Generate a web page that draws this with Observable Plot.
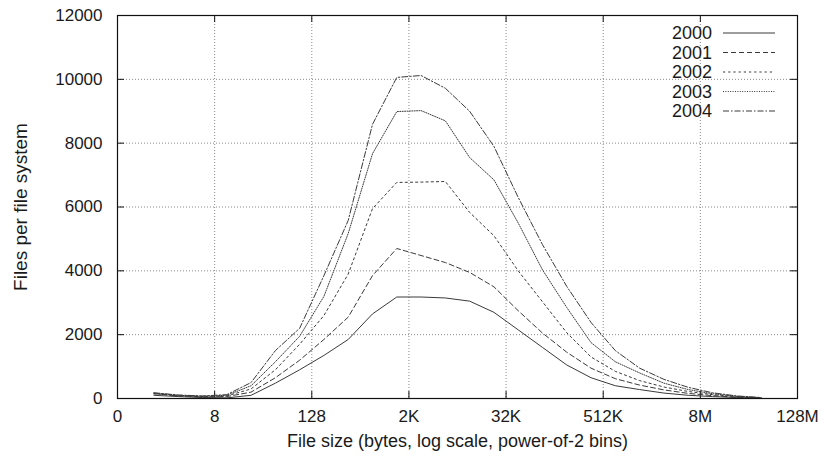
<!DOCTYPE html>
<html>
<head>
<meta charset="utf-8">
<script src="https://cdn.jsdelivr.net/npm/d3@7"></script>
<script src="https://cdn.jsdelivr.net/npm/@observablehq/plot@0.6"></script>
<style>
  html, body { margin: 0; padding: 0; background: #fff; }
  #wrap { position: relative; width: 822px; height: 462px; font-family: "Liberation Sans", Arial, Helvetica, sans-serif; }
  #legend { position: absolute; left: 0; top: 0; pointer-events: none; }
</style>
</head>
<body>
<div id="wrap"></div>
<script>
// Bin centres, in log2(bytes) (power-of-2 bins)
const binLog2 = [0.5, 1.5, 2.5, 3.5, 4.5, 5.5, 6.5, 7.5, 8.5, 9.5, 10.5, 11.5, 12.5,
                 13.5, 14.5, 15.5, 16.5, 17.5, 18.5, 19.5, 20.5, 21.5, 22.5, 23.5, 24.5, 25.5];

const years = ["2000", "2001", "2002", "2003", "2004"];

const files2000 = [100, 60, 30, 20, 100, 480, 900, 1350, 1850, 2650, 3180, 3180, 3150,
                   3050, 2700, 2150, 1600, 1050, 650, 400, 280, 170, 100, 60, 30, 10];
const files2001 = [150, 80, 50, 60, 200, 650, 1200, 1850, 2550, 3850, 4700, 4480, 4260,
                   3950, 3500, 2750, 2050, 1450, 950, 620, 420, 270, 160, 90, 40, 15];
const files2002 = [150, 90, 60, 80, 300, 900, 1700, 2600, 3900, 5950, 6770, 6780, 6800,
                   5830, 5100, 4000, 3030, 2060, 1300, 850, 560, 360, 220, 120, 60, 20];
const files2003 = [170, 100, 70, 100, 400, 1150, 1950, 3200, 5170, 7670, 8990, 9020, 8700,
                   7550, 6850, 5500, 4030, 2850, 1750, 1150, 800, 480, 280, 150, 70, 25];
const files2004 = [180, 110, 80, 120, 500, 1500, 2200, 3850, 5580, 8590, 10060, 10120, 9720,
                   9000, 7900, 6300, 4820, 3510, 2380, 1500, 950, 600, 350, 180, 80, 30];

const xTickPositions = [-1, 3, 7, 11, 15, 19, 23, 27];
const xTickLabels = ["0", "8", "128", "2K", "32K", "512K", "8M", "128M"];
const yTicks = [0, 2000, 4000, 6000, 8000, 10000, 12000];

const xTitle = "File size (bytes, log scale, power-of-2 bins)";
const yTitle = "Files per file system";

// styles (not data)
const dashes = {"2000": null, "2001": "5,3", "2002": "2.2,3", "2003": "1,1.4", "2004": "6,2,1.5,2"};
const lineColor = "#3a3a3a";
const fontFam = "'Liberation Sans', Arial, Helvetica, sans-serif";

const seriesValues = [files2000, files2001, files2002, files2003, files2004];
const table = [];
years.forEach((yr, j) => binLog2.forEach((b, i) => table.push({year: yr, bin: b, files: seriesValues[j][i]})));

const W = 822, H = 462, mL = 117, mR = 25, mT = 15, mB = 64;
const innerW = W - mL - mR, innerH = H - mT - mB;
const tickLen = 7;

const lineMarks = years.map(yr => Plot.line(table.filter(d => d.year === yr), {
  x: "bin", y: "files", stroke: lineColor, strokeWidth: 1,
  strokeDasharray: dashes[yr] || undefined
}));

const chart = Plot.plot({
  width: W, height: H,
  marginLeft: mL, marginRight: mR, marginTop: mT, marginBottom: mB,
  style: {fontFamily: fontFam, fontSize: "17px", color: "#1a1a1a", background: "#fff"},
  x: {domain: [-1, 27]},
  y: {domain: [0, 12000]},
  marks: [
    Plot.gridX(xTickPositions, {stroke: "#8a8a8a", strokeOpacity: 1, strokeDasharray: "1,2"}),
    Plot.gridY(yTicks, {stroke: "#8a8a8a", strokeOpacity: 1, strokeDasharray: "1,2"}),
    // inward tick marks on all four sides (gnuplot style)
    Plot.tickX(xTickPositions, {x: d => d, stroke: "#111", insetTop: innerH - tickLen}),
    Plot.tickX(xTickPositions, {x: d => d, stroke: "#111", insetBottom: innerH - tickLen}),
    Plot.tickY(yTicks, {y: d => d, stroke: "#111", insetRight: innerW - tickLen}),
    Plot.tickY(yTicks, {y: d => d, stroke: "#111", insetLeft: innerW - tickLen}),
    ...lineMarks,
    Plot.axisX(xTickPositions, {
      tickSize: 0, tickPadding: 11, fontSize: 17,
      tickFormat: d => xTickLabels[xTickPositions.indexOf(d)],
      label: null
    }),
    Plot.axisY(yTicks, {
      tickSize: 0, tickPadding: 15, fontSize: 17,
      tickFormat: d => String(d),
      label: null
    }),
    Plot.text([xTitle], {text: d => d, frameAnchor: "bottom", lineAnchor: "middle", textAnchor: "middle", dy: 43, fontSize: 18, fill: "#1a1a1a"}),
    Plot.text([yTitle], {text: d => d, frameAnchor: "left", lineAnchor: "middle", textAnchor: "middle", dx: -97, rotate: -90, fontSize: 19, fill: "#1a1a1a"}),
    Plot.frame({stroke: "#111", strokeWidth: 1.2})
  ]
});

const wrap = document.getElementById("wrap");
wrap.appendChild(chart);

// Legend (inside the frame, top-right), gnuplot style
const ns = "http://www.w3.org/2000/svg";
const leg = document.createElementNS(ns, "svg");
leg.setAttribute("id", "legend");
leg.setAttribute("width", W);
leg.setAttribute("height", 140);
const rowY0 = 33, rowStep = 19.5, textRight = 712, sampleX1 = 723, sampleX2 = 775;
years.forEach((yr, i) => {
  const yy = rowY0 + i * rowStep;
  const t = document.createElementNS(ns, "text");
  t.setAttribute("x", textRight);
  t.setAttribute("y", yy);
  t.setAttribute("text-anchor", "end");
  t.setAttribute("dominant-baseline", "central");
  t.setAttribute("font-size", "18px");
  t.setAttribute("font-family", fontFam);
  t.setAttribute("fill", "#1a1a1a");
  t.textContent = yr;
  leg.appendChild(t);
  const l = document.createElementNS(ns, "line");
  l.setAttribute("x1", sampleX1); l.setAttribute("x2", sampleX2);
  l.setAttribute("y1", yy); l.setAttribute("y2", yy);
  l.setAttribute("stroke", lineColor);
  l.setAttribute("stroke-width", 1);
  if (dashes[yr]) l.setAttribute("stroke-dasharray", dashes[yr]);
  leg.appendChild(l);
});
wrap.appendChild(leg);
</script>
</body>
</html>
